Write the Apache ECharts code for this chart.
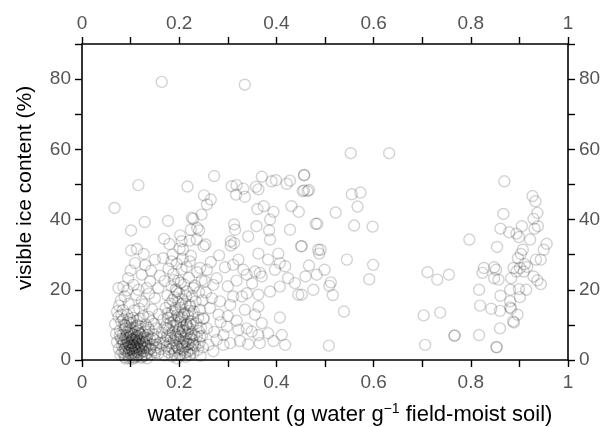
<!DOCTYPE html>
<html>
<head>
<meta charset="utf-8">
<script src="https://cdn.jsdelivr.net/npm/echarts@6/dist/echarts.min.js"></script>
<style>
html,body{margin:0;padding:0;background:#fff;}
#chart{width:603px;height:427px;}
</style>
</head>
<body>
<div id="chart"></div>
<script>
// x: water content (g water g-1 field-moist soil), y: visible ice content (%)
const xTickLabels = ['0', '0.2', '0.4', '0.6', '0.8', '1'];
const yTickLabels = ['0', '20', '40', '60', '80'];

// dense core, low water content / low ice
const coreLow = [[0.068,10.2],[0.070,7.5],[0.072,5.1],[0.075,12.3],[0.076,3.2],[0.078,8.4],[0.079,1.5],[0.080,6.0],[0.081,10.8],[0.082,4.1],[0.083,2.2],[0.084,7.2],[0.085,11.6],[0.086,5.3],[0.087,3.0],[0.088,8.9],[0.088,0.8],[0.089,6.4],[0.090,4.4],[0.090,9.8],[0.091,2.5],[0.092,5.6],[0.093,7.9],[0.093,12.8],[0.094,3.6],[0.095,1.2],[0.095,6.2],[0.096,4.6],[0.097,8.3],[0.097,2.8],[0.098,5.0],[0.099,10.5],[0.100,3.9],[0.100,6.8],[0.101,1.8],[0.102,4.9],[0.102,7.4],[0.103,3.1],[0.104,5.8],[0.104,9.2],[0.105,2.1],[0.106,4.2],[0.107,6.1],[0.107,14.1],[0.108,3.4],[0.109,0.6],[0.110,5.2],[0.110,8.0],[0.111,2.6],[0.112,4.5],[0.113,6.9],[0.113,11.2],[0.114,3.8],[0.115,1.4],[0.116,5.5],[0.117,7.6],[0.118,2.9],[0.119,4.3],[0.120,9.5],[0.121,6.3],[0.122,3.3],[0.123,1.0],[0.124,5.1],[0.125,7.8],[0.126,12.5],[0.127,2.4],[0.128,4.7],[0.129,6.6],[0.130,3.5],[0.131,10.1],[0.132,5.4],[0.134,2.0],[0.135,7.1],[0.136,4.0],[0.138,8.7],[0.139,3.0],[0.140,5.9],[0.142,1.6],[0.143,11.0],[0.145,4.4],[0.147,7.3],[0.148,2.7],[0.150,5.6],[0.152,9.0],[0.153,3.6],[0.155,6.5],[0.157,1.9],[0.158,13.0],[0.160,4.8],[0.076,15.5],[0.084,14.2],[0.096,16.0],[0.072,13.8],[0.105,12.0],[0.118,14.6],[0.128,15.8],[0.090,0.4],[0.106,0.9],[0.134,0.5],[0.114,9.9],[0.099,11.7],[0.087,10.0],[0.081,12.9],[0.137,12.3],[0.148,10.3],[0.144,14.4],
  [0.085,4.8],[0.089,3.3],[0.092,7.0],[0.094,5.2],[0.096,2.0],[0.098,6.5],[0.099,4.1],[0.101,8.6],[0.102,2.9],[0.103,5.9],[0.105,4.0],[0.106,7.2],[0.108,1.9],[0.109,5.6],[0.110,3.6],[0.112,6.3],[0.113,2.2],[0.114,4.9],[0.115,8.4],[0.116,3.1],[0.117,5.9],[0.119,1.8],[0.120,4.6],[0.121,7.3],[0.123,3.9],[0.124,6.0],[0.126,2.6],[0.127,5.3],[0.129,8.1],[0.130,4.2],[0.132,1.5],[0.133,6.2],[0.091,9.3],[0.095,10.9],[0.103,10.6],[0.111,9.6],[0.119,11.8],[0.083,5.9],[0.087,1.9],[0.097,0.5],[0.104,0.3],[0.112,1.0],[0.122,0.6],[0.128,1.2],[0.136,9.2],[0.141,3.2],[0.146,6.1],[0.151,2.1],[0.154,4.3],[0.078,6.9]];

// low water content, moderate ice
const coreMid = [[0.075,20.5],[0.085,20.9],[0.088,18.1],[0.095,23.3],[0.106,21.4],[0.109,27.6],[0.116,20.0],[0.123,24.3],[0.123,16.7],[0.133,20.5],[0.140,22.4],[0.150,28.6],[0.150,17.6],[0.157,20.5],[0.167,29.0],[0.184,28.1],[0.112,18.5],[0.100,25.5],[0.130,27.0],[0.142,25.4],[0.080,17.0],[0.093,19.8],[0.138,18.9],[0.160,24.0],[0.127,30.2],[0.101,31.2],[0.113,31.6]];

// second dense cluster near 0.2
const clusterB = [[0.162,3.1],[0.165,7.8],[0.167,11.5],[0.168,5.0],[0.170,1.3],[0.171,9.2],[0.172,14.8],[0.174,3.9],[0.175,6.7],[0.176,18.4],[0.177,12.0],[0.178,2.2],[0.179,8.5],[0.180,4.8],[0.181,16.1],[0.182,10.6],[0.183,6.2],[0.184,21.0],[0.185,1.0],[0.185,13.7],[0.186,3.4],[0.187,8.0],[0.188,24.5],[0.189,5.5],[0.190,11.3],[0.190,17.9],[0.191,2.6],[0.192,7.1],[0.193,14.2],[0.193,20.1],[0.194,4.2],[0.195,9.6],[0.196,0.5],[0.196,12.8],[0.197,6.0],[0.198,22.6],[0.198,16.5],[0.199,3.2],[0.200,8.8],[0.200,19.0],[0.201,5.1],[0.202,10.9],[0.203,1.7],[0.203,14.9],[0.204,7.3],[0.205,25.8],[0.205,4.0],[0.206,12.2],[0.207,17.3],[0.208,2.8],[0.208,9.4],[0.209,6.1],[0.210,21.5],[0.211,3.7],[0.211,13.4],[0.212,8.2],[0.213,0.9],[0.213,16.0],[0.214,5.3],[0.215,10.2],[0.216,19.6],[0.217,2.3],[0.217,7.6],[0.218,12.6],[0.219,4.5],[0.220,23.4],[0.221,8.9],[0.222,1.5],[0.222,15.2],[0.223,6.4],[0.224,11.0],[0.225,3.3],[0.226,18.2],[0.227,5.8],[0.228,9.9],[0.229,2.0],[0.230,13.8],[0.231,7.0],[0.232,21.2],[0.233,4.1],[0.234,16.7],[0.235,10.4],[0.236,6.6],[0.237,25.0],[0.238,2.9],[0.239,12.1],[0.240,8.3],[0.241,19.3],[0.242,4.9],[0.243,14.3],[0.244,1.2],[0.245,9.1],[0.246,22.7],[0.247,6.9],[0.248,17.0],[0.249,3.6],[0.250,11.7],[0.170,22.5],[0.178,26.0],[0.195,27.4],[0.207,28.8],[0.215,26.5],[0.186,30.0],[0.201,31.8],[0.224,29.7],[0.180,33.0],
  [0.172,5.6],[0.176,9.0],[0.179,3.0],[0.181,6.9],[0.183,12.6],[0.186,4.6],[0.188,9.8],[0.190,1.9],[0.191,14.6],[0.193,6.5],[0.194,10.5],[0.196,3.7],[0.198,8.0],[0.199,12.2],[0.201,1.4],[0.202,6.8],[0.204,11.4],[0.205,15.9],[0.206,3.2],[0.207,8.4],[0.209,5.0],[0.210,12.9],[0.212,2.0],[0.213,7.0],[0.214,18.2],[0.216,4.4],[0.218,9.3],[0.219,14.0],[0.220,6.0],[0.221,2.7],[0.223,10.3],[0.225,7.4],[0.227,13.2],[0.228,4.6],[0.186,17.0],[0.195,19.5],[0.203,22.0],[0.189,22.8],[0.176,13.3],[0.174,10.1]];

// upper left scatter
const upperLeft = [[0.164,79.2],[0.335,78.4],[0.067,43.3],[0.116,49.8],[0.217,49.4],[0.129,39.3],[0.177,39.6],[0.101,36.9],[0.169,34.5],[0.202,35.5],[0.224,37.1],[0.222,34.0],[0.205,33.8],[0.208,31.4],[0.226,40.5],[0.229,40.2],[0.246,41.4],[0.257,44.3],[0.265,45.7],[0.251,46.9],[0.272,52.4],[0.241,36.9],[0.236,34.3],[0.254,32.9],[0.237,37.6],[0.250,32.4]];

// upper middle scatter
const upperMid = [[0.308,49.5],[0.318,49.8],[0.317,47.1],[0.332,48.8],[0.335,46.5],[0.358,49.3],[0.363,48.6],[0.370,52.2],[0.390,50.9],[0.399,51.2],[0.421,50.2],[0.428,51.1],[0.457,52.7],[0.454,48.1],[0.464,48.1],[0.361,43.0],[0.374,43.8],[0.394,42.2],[0.387,40.0],[0.431,43.8],[0.446,42.2],[0.313,38.6],[0.315,37.1],[0.359,38.1],[0.342,35.2],[0.385,36.9],[0.387,34.3],[0.428,37.1],[0.451,32.4],[0.306,33.8],[0.306,32.6],[0.363,30.3],[0.404,30.3],[0.486,31.4],[0.481,38.8],[0.313,33.3]];

// between clusters, low ice
const midLow = [[0.294,26.4],[0.311,27.1],[0.322,28.6],[0.332,25.7],[0.339,24.3],[0.356,25.2],[0.366,24.8],[0.370,23.8],[0.383,28.6],[0.397,25.7],[0.407,27.6],[0.418,26.7],[0.424,23.3],[0.438,21.9],[0.445,18.6],[0.407,20.9],[0.387,19.5],[0.363,18.6],[0.339,19.0],[0.329,18.1],[0.311,18.1],[0.305,15.7],[0.335,14.3],[0.363,15.2],[0.356,12.9],[0.407,12.1],[0.370,10.5],[0.339,9.0],[0.322,8.6],[0.349,8.1],[0.363,7.1],[0.383,7.6],[0.411,7.1],[0.394,5.4],[0.418,4.3],[0.366,4.8],[0.342,4.5],[0.325,5.4],[0.305,4.8],[0.298,9.5],[0.291,7.1],[0.277,5.7],[0.281,12.9],[0.284,16.7],[0.270,21.4],[0.277,23.3],[0.257,25.7],[0.243,26.2],[0.253,22.4],[0.267,17.6],[0.263,14.8],[0.250,11.9],[0.257,9.0],[0.243,6.7],[0.260,4.3],[0.222,28.1],[0.229,20.5],[0.222,15.7],[0.215,10.0],[0.229,4.3],[0.291,4.3],[0.270,2.5],[0.285,10.8],[0.300,12.5],[0.318,11.2],[0.265,27.9],[0.282,29.8],[0.300,21.0],[0.318,22.6],[0.350,21.8],[0.255,19.2],[0.272,8.0]];

// 0.45 - 0.65
const midRight = [[0.457,52.6],[0.457,48.3],[0.467,48.4],[0.553,58.9],[0.632,58.9],[0.555,47.2],[0.573,47.7],[0.567,43.7],[0.522,42.0],[0.560,38.3],[0.598,38.0],[0.484,38.8],[0.452,32.4],[0.491,31.4],[0.488,30.3],[0.545,28.6],[0.599,27.1],[0.591,23.0],[0.467,26.9],[0.499,25.7],[0.460,23.8],[0.483,24.3],[0.512,22.1],[0.509,21.1],[0.476,20.0],[0.516,18.5],[0.452,18.6],[0.539,13.8],[0.508,4.1]];

// high water content cluster
const highWater = [[0.711,25.0],[0.731,22.9],[0.755,24.3],[0.703,12.7],[0.737,13.5],[0.766,6.9],[0.706,4.3],[0.817,7.1],[0.853,3.7],[0.797,34.3],[0.869,50.9],[0.927,46.7],[0.933,45.2],[0.867,41.6],[0.937,41.9],[0.929,40.2],[0.938,38.1],[0.931,37.4],[0.861,37.4],[0.879,36.4],[0.894,36.0],[0.905,38.1],[0.899,35.0],[0.922,34.3],[0.956,33.1],[0.950,31.4],[0.854,32.2],[0.907,31.4],[0.903,30.2],[0.944,28.6],[0.934,28.6],[0.827,26.2],[0.848,26.4],[0.852,25.7],[0.824,24.8],[0.888,26.2],[0.901,26.2],[0.916,26.5],[0.909,25.2],[0.894,25.2],[0.883,23.3],[0.848,23.3],[0.857,22.9],[0.929,23.8],[0.937,22.7],[0.944,21.6],[0.817,20.0],[0.881,20.0],[0.899,20.2],[0.914,20.0],[0.861,18.3],[0.901,17.9],[0.881,16.7],[0.881,15.0],[0.883,14.6],[0.896,12.9],[0.819,15.5],[0.842,14.6],[0.860,14.0],[0.887,11.0],[0.889,10.7],[0.860,9.0],[0.767,7.0],[0.853,3.6],[0.911,27.3],[0.897,29.0]];

const allPoints = [].concat(coreLow, coreMid, clusterB, upperLeft, upperMid, midLow, midRight, highWater);

const labelColor = '#555';
const fontFamily = 'Liberation Sans, Arial, sans-serif';

function xLab(v) {
  const s = String(Math.round(v * 10) / 10);
  return xTickLabels.indexOf(s) >= 0 ? s : '';
}
function yLab(v) {
  const s = String(Math.round(v));
  return yTickLabels.indexOf(s) >= 0 ? s : '';
}

const axisLine = { show: true, onZero: false, lineStyle: { color: '#000', width: 1.6 } };
const axisTick = { show: true, length: 7, lineStyle: { color: '#000', width: 1.4 } };
const tickFont = { color: labelColor, fontSize: 19, fontFamily: fontFamily };

const chart = echarts.init(document.getElementById('chart'), null, { renderer: 'canvas' });
chart.setOption({
  animation: false,
  backgroundColor: '#fff',
  grid: { left: 82, right: 35, top: 44, bottom: 67, containLabel: false, outerBoundsMode: 'none' },
  xAxis: [
    {
      type: 'value', position: 'bottom', min: 0, max: 1, interval: 0.1,
      axisLine: axisLine, axisTick: axisTick, splitLine: { show: false },
      axisLabel: Object.assign({ formatter: xLab, margin: 13 }, tickFont),
      name: 'water content (g water g{sup|\u22121} field-moist soil)',
      nameLocation: 'middle', nameGap: 42,
      nameTextStyle: {
        color: '#000', fontSize: 22, fontFamily: fontFamily, padding: [0, 0, 0, 50],
        rich: { sup: { fontSize: 14, color: '#000', fontFamily: fontFamily, verticalAlign: 'top', padding: [0, 0, 12, 0] } }
      }
    },
    {
      type: 'value', position: 'top', min: 0, max: 1, interval: 0.1,
      axisLine: axisLine, axisTick: axisTick, splitLine: { show: false },
      axisLabel: Object.assign({ formatter: xLab, margin: 11 }, tickFont)
    }
  ],
  yAxis: [
    {
      type: 'value', position: 'left', min: 0, max: 90, interval: 10,
      axisLine: axisLine, axisTick: axisTick, splitLine: { show: false },
      axisLabel: Object.assign({ formatter: yLab, margin: 11 }, tickFont),
      name: 'visible ice content (%)', nameLocation: 'middle', nameGap: 46, nameRotate: 90,
      nameTextStyle: { color: '#000', fontSize: 21, fontFamily: fontFamily, padding: [0, 0, 0, 28] }
    },
    {
      type: 'value', position: 'right', min: 0, max: 90, interval: 10,
      axisLine: axisLine, axisTick: axisTick, splitLine: { show: false },
      axisLabel: Object.assign({ formatter: yLab, margin: 11 }, tickFont)
    }
  ],
  series: [{
    type: 'scatter',
    xAxisIndex: 0, yAxisIndex: 0,
    data: allPoints,
    symbol: 'circle',
    symbolSize: 11,
    itemStyle: { color: 'rgba(0,0,0,0)', borderColor: 'rgba(0,0,0,0.22)', borderWidth: 1.4 },
    emphasis: { disabled: true }
  }]
});
</script>
</body>
</html>
